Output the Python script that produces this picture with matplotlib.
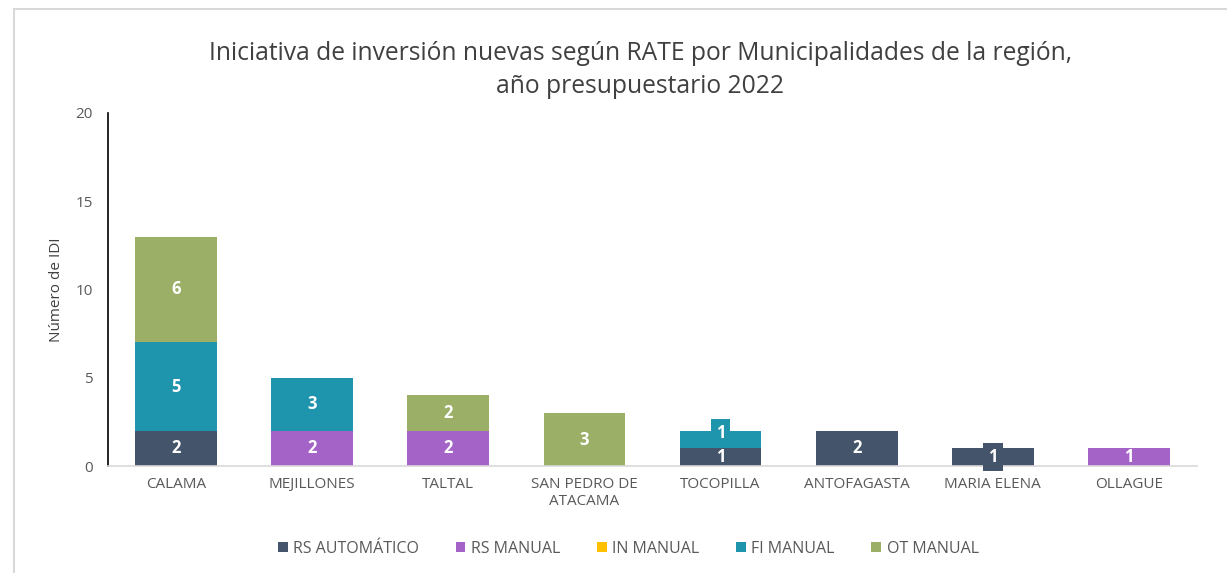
import matplotlib
matplotlib.use("Agg")
import matplotlib.pyplot as plt
import numpy as np

categories = ["CALAMA", "MEJILLONES", "TALTAL", "SAN PEDRO DE\nATACAMA", "TOCOPILLA",
              "ANTOFAGASTA", "MARIA ELENA", "OLLAGUE"]
series_names = ["RS AUTOMÁTICO", "RS MANUAL", "IN MANUAL", "FI MANUAL", "OT MANUAL"]
rs_auto = [2, 0, 0, 0, 1, 2, 1, 0]
rs_manual = [0, 2, 2, 0, 0, 0, 0, 1]
in_manual = [0, 0, 0, 0, 0, 0, 0, 0]
fi_manual = [5, 3, 0, 0, 1, 0, 0, 0]
ot_manual = [6, 0, 2, 3, 0, 0, 0, 0]
colors = ["#44546A", "#A463C7", "#FFC000", "#1F94AD", "#9BAF67"]

plt.rcParams['font.family'] = ['Open Sans', 'DejaVu Sans']

fig = plt.figure(figsize=(12.27, 5.73), dpi=100)
ax = fig.add_axes([108/1227, 1-466/573, (1197-108)/1227, (466-113)/573])

# labels drawn with a filled box (as in the reference): (category index, series index) -> vertical offset (pts)
boxed = {(4, 3): 5, (6, 0): 0}

x = np.arange(len(categories))
bottom = np.zeros(len(categories))
all_series = [rs_auto, rs_manual, in_manual, fi_manual, ot_manual]
for si, (name, vals, c) in enumerate(zip(series_names, all_series, colors)):
    vals = np.array(vals, dtype=float)
    ax.bar(x, vals, 0.6, bottom=bottom, color=c, label=name, zorder=2)
    for xi, v, b in zip(x, vals, bottom):
        if v > 0:
            kw = {}
            dy = 0
            if (xi, si) in boxed:
                kw["bbox"] = dict(boxstyle="square,pad=0.3", fc=c, ec="none")
                dy = boxed[(xi, si)]
            ax.annotate(f"{int(v)}", (xi, b + v/2), xytext=(0, dy), textcoords="offset points",
                        ha="center", va="center", color="white",
                        fontsize=12, fontweight="bold", zorder=3, **kw)
    bottom += vals

ax.set_xlim(-0.5, len(categories)-0.5)
ax.set_ylim(0, 20)
ax.set_yticks([0, 5, 10, 15, 20])
ax.set_xticks(x)
ax.set_xticklabels(categories, fontsize=11, color="#595959")
ax.tick_params(axis="both", length=0, labelsize=11, labelcolor="#595959")
ax.tick_params(axis="y", pad=11)
ax.tick_params(axis="x", pad=8)
for s in ["top", "right"]:
    ax.spines[s].set_visible(False)
ax.spines["left"].set_color("black")
ax.spines["left"].set_linewidth(1.2)
ax.spines["bottom"].set_color("#D9D9D9")
ax.spines["bottom"].set_linewidth(1.2)
ax.set_ylabel("Número de IDI", fontsize=11, color="#404040", labelpad=8)

fig.text(0.522, 1-70/573, "Iniciativa de inversión nuevas según RATE por Municipalidades de la región,\naño presupuestario 2022",
         ha="center", va="center", fontsize=17.7, color="#404040", linespacing=1.4)

handles, labels = ax.get_legend_handles_labels()
leg = fig.legend(handles, labels, loc="center", bbox_to_anchor=(0.512, 1-549/573), ncol=5,
                 frameon=False, fontsize=11.5, handlelength=0.6, handleheight=0.6,
                 handletextpad=0.35, columnspacing=2.3)
for t in leg.get_texts():
    t.set_color("#595959")

# outer chart border (partially visible)
fig.add_artist(plt.Line2D([14/1227, 14/1227], [0, 1-9/573], color="#D9D9D9", lw=1.5))
fig.add_artist(plt.Line2D([14/1227, 1], [1-9/573, 1-9/573], color="#D9D9D9", lw=1.5))

fig.savefig("out.png", dpi=100)
